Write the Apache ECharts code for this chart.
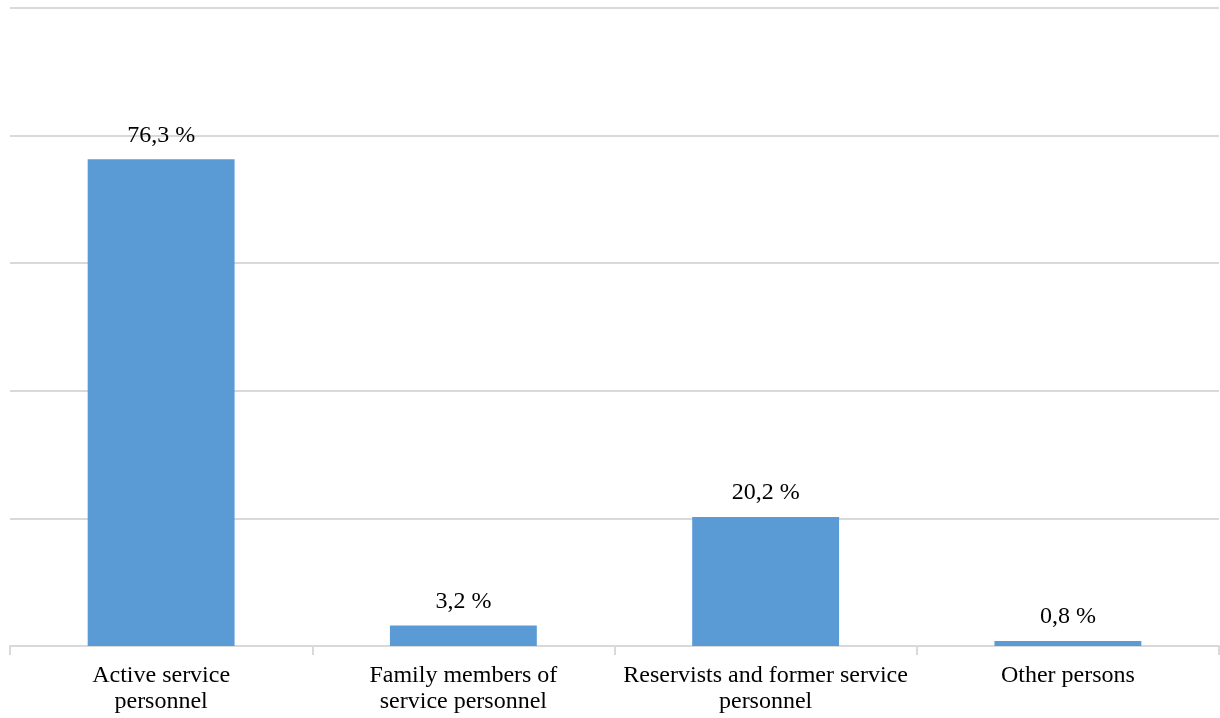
<!DOCTYPE html>
<html>
<head>
<meta charset="utf-8">
<script src="https://cdn.jsdelivr.net/npm/echarts@6/dist/echarts.min.js"></script>
<style>
html,body{margin:0;padding:0;background:#fff;}
#chart{width:1220px;height:718px;}
</style>
</head>
<body>
<div id="chart"></div>
<script>
var categories = ['Active service\npersonnel', 'Family members of\nservice personnel', 'Reservists and former service\npersonnel', 'Other persons'];
var values = [76.3, 3.2, 20.2, 0.8];
var valueLabels = ['76,3 %', '3,2 %', '20,2 %', '0,8 %'];

var chart = echarts.init(document.getElementById('chart'));
chart.setOption({
  animation: false,
  grid: {left: 10, right: 1, top: 8, bottom: 72, containLabel: false},
  xAxis: {
    type: 'category',
    data: categories,
    axisLine: {show: true, lineStyle: {color: '#d9d9d9', width: 2}},
    axisTick: {show: true, interval: 0, length: 9, lineStyle: {color: '#d9d9d9', width: 2}},
    axisLabel: {
      interval: 0,
      color: '#000', fontFamily: 'Liberation Serif', fontSize: 24, lineHeight: 26, margin: 17
    }
  },
  yAxis: {
    type: 'value', min: 0, max: 100, interval: 20,
    axisLabel: {show: false},
    axisLine: {show: false},
    axisTick: {show: false},
    splitLine: {lineStyle: {color: '#d9d9d9', width: 2}}
  },
  series: [{
    type: 'bar',
    data: values,
    barWidth: '48.6%',
    itemStyle: {color: '#5B9BD5'},
    label: {
      show: true, position: 'top', distance: 12,
      color: '#000', fontFamily: 'Liberation Serif', fontSize: 24,
      formatter: function(p){ return valueLabels[p.dataIndex]; }
    }
  }]
});
</script>
</body>
</html>
